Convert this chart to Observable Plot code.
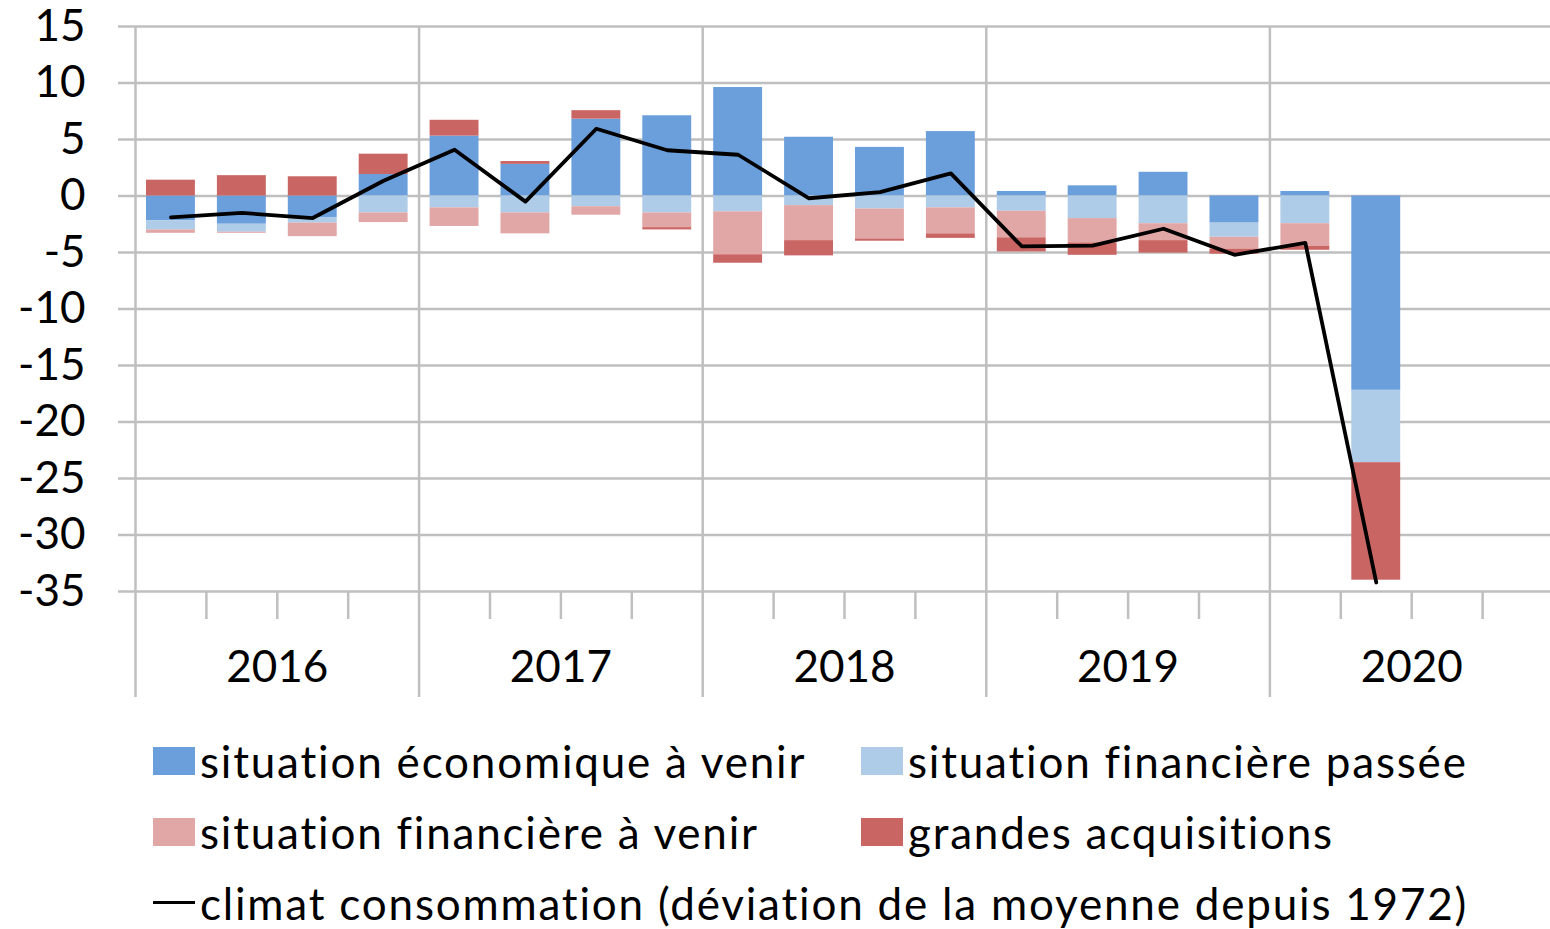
<!DOCTYPE html>
<html><head><meta charset="utf-8">
<script src="https://cdn.jsdelivr.net/npm/d3@7"></script>
<script src="https://cdn.jsdelivr.net/npm/@observablehq/plot@0.6"></script>
<style>
body{margin:0;background:#fff;font-family:Lato, sans-serif;}
#chart svg{display:block;overflow:visible;}
#legend{margin-left:153px;margin-top:5px;display:grid;grid-template-columns:708px 708px;grid-auto-rows:71px;font-size:44px;color:#000;font-family:Lato, sans-serif;font-variant-ligatures:none;}
.item{display:flex;align-items:center;white-space:nowrap;}
.item .tx{letter-spacing:1.8px;}
.sw{width:42px;height:28px;margin-right:5px;flex:none;}
.ln{width:42px;height:3.5px;background:#000;margin-right:5px;flex:none;}
.wide{grid-column:1 / span 2;}
</style></head><body>
<div id="chart"></div>
<div id="legend"></div>
<script>
const quarters = ["2016T1","2016T2","2016T3","2016T4","2017T1","2017T2","2017T3","2017T4","2018T1","2018T2","2018T3","2018T4","2019T1","2019T2","2019T3","2019T4","2020T1","2020T2"];
const yearLabels = ["2016","2017","2018","2019","2020"];
const seriesNames = ["situation économique à venir","situation financière passée","situation financière à venir","grandes acquisitions"];
const seriesColors = ["#6A9FDB","#AECBE8","#E1A6A6","#C96562"];
const ecoVenir = [-2.2,-2.5,-1.9,1.9,5.3,2.8,6.8,7.1,9.6,5.2,4.3,5.7,0.4,0.9,2.1,-2.4,0.4,-17.2];
const finPassee = [-0.8,-0.7,-0.5,-1.5,-1.05,-1.5,-0.95,-1.5,-1.4,-0.85,-1.15,-1.05,-1.35,-2.0,-2.45,-1.25,-2.45,-6.4];
const finVenir = [-0.3,-0.1,-1.2,-0.85,-1.65,-1.85,-0.75,-1.3,-3.8,-3.1,-2.65,-2.3,-2.35,-2.15,-1.5,-1.05,-2.0,0];
const grandesAcq = [1.4,1.8,1.7,1.8,1.4,0.25,0.75,-0.2,-0.75,-1.35,-0.2,-0.4,-1.25,-1.1,-1.1,-0.45,-0.35,-10.4];
const climat = [-1.9,-1.5,-1.95,1.35,4.1,-0.5,5.95,4.05,3.65,-0.2,0.35,2.0,-4.45,-4.4,-2.9,-5.2,-4.15,-34.2];
const lineLabel = "climat consommation (déviation de la moyenne depuis 1972)";
const yTicks = [15,10,5,0,-5,-10,-15,-20,-25,-30,-35];

const seriesValues = [ecoVenir, finPassee, finVenir, grandesAcq];
const nSlots = yearLabels.length * 4;
const rows = [];
quarters.forEach((q, i) => {
  seriesNames.forEach((s, k) => rows.push({q, i, series: s, value: seriesValues[k][i]}));
});
const lineData = quarters.map((q, i) => ({q, i, value: climat[i]}));
const yearBounds = d3.range(0, nSlots + 1, 4);
const quarterBounds = d3.range(0, nSlots + 1).filter(d => d % 4 !== 0);
const grid = "#BFBFBF";

const plot = Plot.plot({
  width: 1550, height: 720,
  marginLeft: 135, marginRight: 0, marginTop: 26, marginBottom: 129,
  style: {fontFamily: "Lato, sans-serif", fontSize: "44px", background: "white", color: "black", overflow: "visible"},
  x: {domain: [0, nSlots], range: [135, 1553], axis: null},
  y: {domain: [-35, 15], ticks: yTicks, tickSize: 0, tickPadding: 50, tickFormat: d => String(d), label: null},
  color: {domain: seriesNames, range: seriesColors},
  marks: [
    Plot.ruleY(yTicks, {y: d => d, stroke: grid, strokeWidth: 2.5, insetLeft: -17}),
    Plot.ruleX(yearBounds, {x: d => d, stroke: grid, strokeWidth: 2.5, insetBottom: -106}),
    Plot.ruleX(quarterBounds, {x: d => d, y1: -35, y2: -35, stroke: grid, strokeWidth: 2.5, insetBottom: -28}),
    Plot.rectY(rows, Plot.stackY({x1: "i", x2: d => d.i + 1, y: "value", fill: "series", insetLeft: 11, insetRight: 11})),
    Plot.line(lineData, {x: d => d.i + 0.5, y: "value", stroke: "black", strokeWidth: 3.8}),
    Plot.text(yearLabels, {x: (d, k) => k * 4 + 2, y: -35, dy: 76, text: d => d, fontSize: 44, fill: "black"})
  ]
});
document.getElementById("chart").appendChild(plot);

const legend = document.getElementById("legend");
seriesNames.forEach((s, k) => {
  const it = document.createElement("div");
  it.className = "item";
  it.innerHTML = `<span class="sw" style="background:${seriesColors[k]}"></span><span class="tx">${s}</span>`;
  legend.appendChild(it);
});
const li = document.createElement("div");
li.className = "item wide";
li.innerHTML = `<span class="ln"></span><span class="tx">${lineLabel}</span>`;
legend.appendChild(li);
</script>
</body></html>
